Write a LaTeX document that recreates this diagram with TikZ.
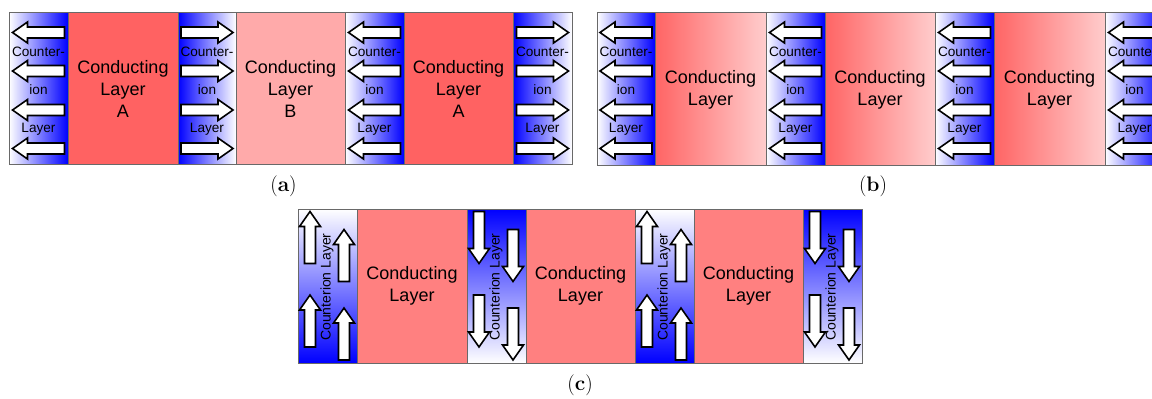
\documentclass[tikz,border=0pt]{standalone}
\usepackage{fontspec}
\newfontfamily\arialf{Liberation Sans}
\definecolor{framegray}{RGB}{105,105,105}
\definecolor{ionblue}{RGB}{0,0,255}
\definecolor{condA}{RGB}{255,98,98}
\definecolor{condB}{RGB}{255,170,170}
\definecolor{condC}{RGB}{255,128,128}
\definecolor{condL}{RGB}{255,100,100}
\definecolor{condR}{RGB}{255,205,205}
\begin{document}
\begin{tikzpicture}[x=1pt,y=-1pt,
  col/.style={draw=framegray, line width=0.8pt, inner sep=0pt, outer sep=0pt, anchor=north west},
  ionR/.style={col, left color=white, right color=ionblue},
  ionL/.style={col, left color=ionblue, right color=white},
  ionD/.style={col, top color=white, bottom color=ionblue},
  ionU/.style={col, top color=ionblue, bottom color=white},
  condgrad/.style={col, left color=condL, right color=condR},
  ionlabel/.style={font=\arialf\fontsize{13.6}{15}\selectfont, inner sep=0pt},
  condlabel/.style={font=\arialf\fontsize{18}{22}\selectfont, align=center, inner sep=0pt},
  vlabel/.style={font=\arialf\fontsize{14}{16}\selectfont, rotate=90, inner sep=0pt},
  caption/.style={font=\fontsize{21}{25}\selectfont, inner sep=0pt},
  fatstyle/.style={fill=white, draw=black, line width=1.6pt, line join=miter},
  fatarrow/.pic={\draw[fatstyle] (-26,-5.5) -- (11,-5.5) -- (11,-10.5) -- (26,0) -- (11,10.5) -- (11,5.5) -- (-26,5.5) -- cycle;},
  frame/.style={draw=framegray, line width=0.8pt}
]
\path[use as bounding box, clip] (0,0) rectangle (1152,399);

% ---------------- panel (a) ----------------
\node[ionR, minimum width=59pt, minimum height=152pt] (a1) at (9,12) {};
\node[col, fill=condA, minimum width=110pt, minimum height=152pt] (a2) at (68,12) {};
\node[ionL, minimum width=58pt, minimum height=152pt] (a3) at (178,12) {};
\node[col, fill=condB, minimum width=109pt, minimum height=152pt] (a4) at (236,12) {};
\node[ionR, minimum width=59pt, minimum height=152pt] (a5) at (345,12) {};
\node[col, fill=condA, minimum width=109pt, minimum height=152pt] (a6) at (404,12) {};
\node[ionL, minimum width=59pt, minimum height=152pt] (a7) at (513,12) {};
\draw[frame] (a1.north west) rectangle (a7.south east);

\foreach \cx/\rot in {38.5/180, 207/0, 374.5/180, 542.5/0}
  \foreach \yy in {32.5,71,110,148.5}
    \pic[rotate=\rot] at (\cx,\yy) {fatarrow};

\foreach \cx/\n in {38.5/a1, 207/a3, 374.5/a5, 542.5/a7}{
  \node[ionlabel] (\n-t1) at (\cx,52) {Counter-};
  \node[ionlabel] (\n-t2) at (\cx,90) {ion};
  \node[ionlabel] (\n-t3) at (\cx,129) {Layer};
}
\node[condlabel] (a2-t) at ([yshift=-1pt]a2.center) {Conducting\\Layer\\A};
\node[condlabel] (a4-t) at ([yshift=-1pt]a4.center) {Conducting\\Layer\\B};
\node[condlabel] (a6-t) at ([yshift=-1pt]a6.center) {Conducting\\Layer\\A};
\node[caption] (capa) at (283.5,186) {(\textbf{a})};

% ---------------- panel (b) ----------------
\node[ionR, minimum width=58pt, minimum height=153pt] (b1) at (597,12) {};
\node[condgrad, minimum width=111pt, minimum height=153pt] (b2) at (655,12) {};
\node[ionR, minimum width=59pt, minimum height=153pt] (b3) at (766,12) {};
\node[condgrad, minimum width=110pt, minimum height=153pt] (b4) at (825,12) {};
\node[ionR, minimum width=59pt, minimum height=153pt] (b5) at (935,12) {};
\node[condgrad, minimum width=111pt, minimum height=153pt] (b6) at (994,12) {};
\node[ionR, minimum width=59pt, minimum height=153pt] (b7) at (1105,12) {};
\draw[frame] (b1.north west) rectangle (b7.south east);

\foreach \cx in {626, 795.5, 964.5, 1134.5}
  \foreach \yy in {32.5,71,110,148.5}
    \pic[rotate=180] at (\cx,\yy) {fatarrow};

\foreach \cx/\n in {626/b1, 795.5/b3, 964.5/b5, 1134.5/b7}{
  \node[ionlabel] (\n-t1) at (\cx,52) {Counter-};
  \node[ionlabel] (\n-t2) at (\cx,90) {ion};
  \node[ionlabel] (\n-t3) at (\cx,129) {Layer};
}
\node[condlabel] (b2-t) at ([yshift=-1pt]b2.center) {Conducting\\Layer};
\node[condlabel] (b4-t) at ([yshift=-1pt]b4.center) {Conducting\\Layer};
\node[condlabel] (b6-t) at ([yshift=-1pt]b6.center) {Conducting\\Layer};
\node[caption] (capb) at (873,186) {(\textbf{b})};

% ---------------- panel (c) ----------------
\node[ionD, minimum width=59pt, minimum height=154pt] (c1) at (298,209) {};
\node[col, fill=condC, minimum width=110pt, minimum height=154pt] (c2) at (357,209) {};
\node[ionU, minimum width=59pt, minimum height=154pt] (c3) at (467,209) {};
\node[col, fill=condC, minimum width=109pt, minimum height=154pt] (c4) at (526,209) {};
\node[ionD, minimum width=59pt, minimum height=154pt] (c5) at (635,209) {};
\node[col, fill=condC, minimum width=109pt, minimum height=154pt] (c6) at (694,209) {};
\node[ionU, minimum width=59pt, minimum height=154pt] (c7) at (803,209) {};
\draw[frame] (c1.north west) rectangle (c7.south east);

\foreach \X/\rot in {298/90, 467/-90, 635/90, 803/-90}{
  \pic[rotate=\rot] at (\X+12,237.5) {fatarrow};
  \pic[rotate=\rot] at (\X+46,255.5) {fatarrow};
  \pic[rotate=\rot] at (\X+12,321) {fatarrow};
  \pic[rotate=\rot] at (\X+46,334) {fatarrow};
}
\foreach \n in {c1,c3,c5,c7}
  \node[vlabel] (\n-t) at ([xshift=-0.5pt,yshift=-1pt]\n.center) {Counterion Layer};
\node[condlabel] (c2-t) at (c2.center) {Conducting\\Layer};
\node[condlabel] (c4-t) at (c4.center) {Conducting\\Layer};
\node[condlabel] (c6-t) at (c6.center) {Conducting\\Layer};
\node[caption] (capc) at (580,385) {(\textbf{c})};
\end{tikzpicture}
\end{document}
